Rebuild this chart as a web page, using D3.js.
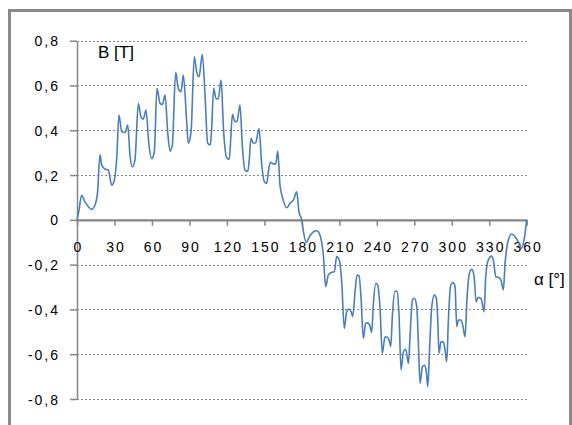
<!DOCTYPE html>
<html>
<head>
<meta charset="utf-8">
<script src="https://cdn.jsdelivr.net/npm/d3@7"></script>
<style>
  html, body { margin: 0; padding: 0; background: #fff; }
  svg { display: block; }
  .tick text { font-family: "Liberation Sans", Arial, sans-serif; font-size: 14px; letter-spacing: 2px; fill: #000; }
</style>
</head>
<body>
<svg id="chart" width="572" height="425"></svg>
<script>
// Rotor angle (degrees) and air-gap flux density B (tesla)
const alpha = [
  0, 1.5, 3.7, 6.4, 9, 11.7, 14.4, 16.5, 18.4, 19.8, 22.4, 25, 27.8, 29.9,
  31.8, 33.6, 35.8, 38.4, 40.6, 42.4, 44.3, 46.4, 49.1, 51.2, 53.1, 55.2, 57.6, 59.8,
  61.9, 64, 66.5, 68.3, 70.5, 72.6, 74.5, 76.3, 79, 81.1, 83.3, 85.1, 87.8, 89.1,
  91.3, 93.9, 95.8, 97.7, 100.3, 102.5, 104.6, 106.7, 107.8, 109.4, 111.3, 113.1, 115.3, 117.4,
  119.8, 121.9, 123.1, 124.4, 126.5, 128.1, 130.5, 132.3, 134.5, 136.7, 138, 139.3, 141.2, 143.1,
  145.7, 147.9, 150, 151.9, 153.2, 154.8, 157.2, 159.1, 160.7, 162.5, 164.7, 167.9, 170.5, 173.2,
  175.9, 177.7, 179.9, 181.5, 183.5, 186.5, 190.6, 192, 194.6, 197.2, 199.1, 201.2, 203.9, 206,
  207.9, 210, 211.9, 214, 215.9, 217.8, 219.4, 220.7, 222.6, 224.2, 225.8, 227.4, 229.2, 231.1,
  232.7, 234.6, 235.9, 237.2, 239.2, 240.7, 242.6, 244.4, 246.6, 248.5, 250, 251.2, 252.5, 254.6,
  256.2, 257.8, 259.4, 261.3, 263.2, 265.3, 266.6, 268.5, 270.1, 272, 273.3, 274.6, 276.5, 278.1,
  279.7, 280.8, 282.1, 284, 286.1, 287.7, 288.8, 289.8, 291.4, 293.3, 294.6, 296, 297.3, 299.2,
  300.8, 302.6, 304, 305.3, 307.2, 308.8, 310.6, 312.3, 314.1, 316, 317.9, 319.5, 321.3, 323.5,
  325.9, 327.2, 329.3, 332, 333.6, 335.2, 337.3, 339.5, 341.3, 342.7, 345.3, 348, 350.7, 353.3,
  356, 358.1, 360
];
const bField = [
  0, 0.04, 0.11, 0.08, 0.06, 0.047, 0.066, 0.126, 0.29, 0.245, 0.227, 0.222, 0.155, 0.178,
  0.275, 0.468, 0.393, 0.39, 0.423, 0.29, 0.237, 0.267, 0.52, 0.46, 0.45, 0.49, 0.334, 0.274,
  0.304, 0.587, 0.52, 0.515, 0.557, 0.393, 0.307, 0.334, 0.659, 0.587, 0.572, 0.647, 0.438, 0.342,
  0.393, 0.728, 0.661, 0.639, 0.739, 0.557, 0.342, 0.334, 0.408, 0.587, 0.542, 0.54, 0.624, 0.393,
  0.277, 0.27, 0.364, 0.471, 0.438, 0.44, 0.513, 0.334, 0.222, 0.216, 0.275, 0.364, 0.342, 0.345,
  0.408, 0.245, 0.17, 0.163, 0.215, 0.257, 0.25, 0.25, 0.307, 0.155, 0.096, 0.054, 0.074, 0.088,
  0.125, 0.036, 0, -0.06, -0.1, -0.071, -0.05, -0.049, -0.07, -0.157, -0.298, -0.246, -0.234, -0.232,
  -0.164, -0.179, -0.276, -0.484, -0.41, -0.398, -0.41, -0.432, -0.321, -0.246, -0.25, -0.35, -0.529, -0.462,
  -0.46, -0.475, -0.502, -0.38, -0.283, -0.29, -0.395, -0.596, -0.522, -0.525, -0.54, -0.566, -0.425, -0.318,
  -0.32, -0.425, -0.67, -0.589, -0.578, -0.641, -0.522, -0.358, -0.35, -0.388, -0.551, -0.73, -0.656, -0.65,
  -0.68, -0.745, -0.596, -0.388, -0.336, -0.35, -0.447, -0.596, -0.544, -0.546, -0.581, -0.633, -0.447, -0.291,
  -0.28, -0.295, -0.477, -0.447, -0.447, -0.47, -0.522, -0.343, -0.239, -0.221, -0.252, -0.366, -0.346, -0.352,
  -0.41, -0.254, -0.179, -0.162, -0.19, -0.254, -0.256, -0.27, -0.313, -0.194, -0.09, -0.063, -0.075, -0.098,
  -0.127, -0.083, 0
];
const xTicks = [0, 30, 60, 90, 120, 150, 180, 210, 240, 270, 300, 330, 360];
const yTicks = [-0.8, -0.6, -0.4, -0.2, 0, 0.2, 0.4, 0.6, 0.8];
const yTickLabels = ["-0,8", "-0,6", "-0,4", "-0,2", "0", "0,2", "0,4", "0,6", "0,8"];

const svg = d3.select("#chart");
const axisColor = "#868686";

// chart frame
svg.append("rect")
  .attr("x", 9.5).attr("y", 10.5)
  .attr("width", 561).attr("height", 440)
  .attr("fill", "#fff")
  .attr("stroke", "#898989").attr("stroke-width", 3);

const x = d3.scaleLinear().domain([0, 360]).range([77, 526.7]);
const y = d3.scaleLinear().domain([-0.8, 0.8]).range([399, 40.7]);

// dotted horizontal gridlines
svg.append("g").selectAll("line")
  .data(yTicks.filter(d => d !== 0))
  .join("line")
  .attr("x1", x(0)).attr("x2", x(360))
  .attr("y1", d => Math.round(y(d)) + 0.5).attr("y2", d => Math.round(y(d)) + 0.5)
  .attr("stroke", axisColor).attr("stroke-width", 1.1)
  .attr("stroke-dasharray", "2,2");

// vertical axis
const yAxis = svg.append("g")
  .attr("transform", `translate(${x(0)},0)`)
  .call(d3.axisLeft(y).tickValues(yTicks).tickSize(7).tickSizeOuter(0).tickPadding(10)
    .tickFormat((d, i) => yTickLabels[i]));
yAxis.selectAll("path, line").attr("stroke", axisColor).attr("stroke-width", 1.5);
yAxis.selectAll("text").attr("dy", "0.36em");

// horizontal axis through B = 0
const xAxis = svg.append("g")
  .attr("transform", `translate(0,${y(0)})`)
  .call(d3.axisBottom(x).tickValues(xTicks).tickSize(6).tickSizeOuter(0).tickPadding(16)
    .tickFormat(d3.format("d")));
xAxis.selectAll("path").attr("stroke", axisColor).attr("stroke-width", 2.2);
xAxis.selectAll("line").attr("stroke", axisColor).attr("stroke-width", 1.5);
xAxis.selectAll("text").attr("dx", "1px");

// flux density curve
const pts = alpha.map((a, i) => [a, bField[i]]);
svg.append("path")
  .datum(pts)
  .attr("fill", "none")
  .attr("stroke", "#4a7ebb")
  .attr("stroke-width", 1.6)
  .attr("stroke-linejoin", "round")
  .attr("d", d3.line().x(d => x(d[0])).y(d => y(d[1])).curve(d3.curveMonotoneX));

// axis titles
svg.append("text")
  .attr("x", 98).attr("y", 57.5)
  .attr("font-family", "Liberation Sans, Arial, sans-serif")
  .attr("font-size", 17)
  .text("B [T]");
svg.append("text")
  .attr("x", 534).attr("y", 285)
  .attr("font-family", "Liberation Sans, Arial, sans-serif")
  .attr("font-size", 17)
  .text("α [°]");
</script>
</body>
</html>
